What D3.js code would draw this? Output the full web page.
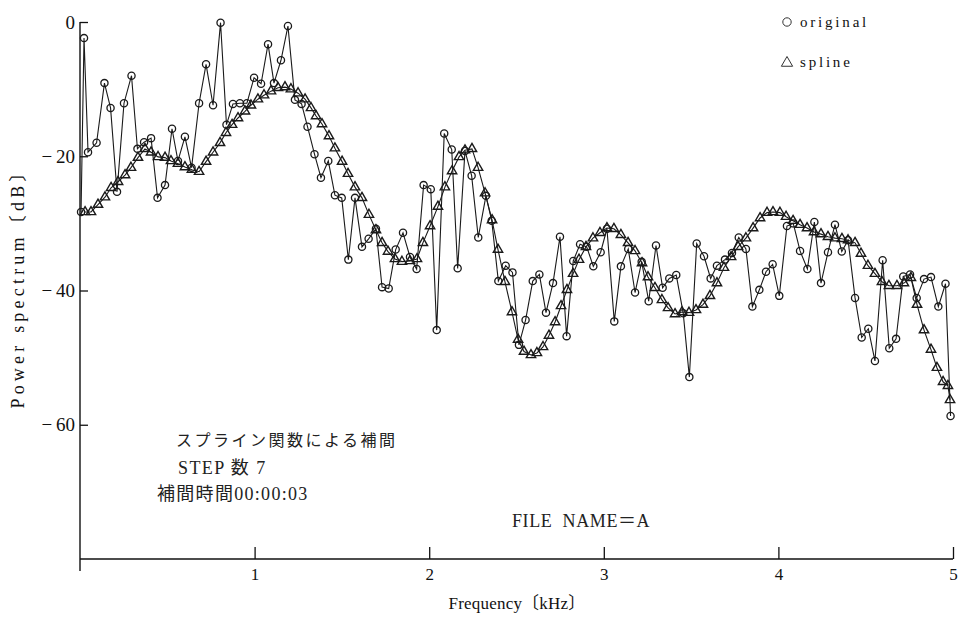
<!DOCTYPE html>
<html>
<head>
<meta charset="utf-8">
<script src="https://cdn.jsdelivr.net/npm/d3@7"></script>
<style>
    body { margin: 0; background: #fff; }
    svg { display: block; }
    .axis text { font-family: "Liberation Serif", serif; fill: #111; }
    .axis line, .axis path { stroke: #111; }
    .label { font-family: "Liberation Serif", "Noto Sans CJK JP", serif; fill: #111; }
    .latin { font-family: "Liberation Serif", serif; }
    .cjk { font-family: "Noto Sans CJK JP", sans-serif; }
</style>
</head>
<body>
<div id="chart"></div>
<script>
// Original spectrum (circles) - frequency in kHz, power in dB
const origFreq = [
    0.006, 0.023, 0.046, 0.095, 0.140, 0.175, 0.212, 0.252, 0.295, 0.329,
    0.367, 0.407, 0.444, 0.487, 0.527, 0.561, 0.601, 0.639, 0.682, 0.722,
    0.762, 0.805, 0.839, 0.876, 0.916, 0.956, 0.997, 1.037, 1.077, 1.111,
    1.151, 1.191, 1.231, 1.269, 1.303, 1.343, 1.380, 1.422, 1.460, 1.499,
    1.537, 1.575, 1.615, 1.653, 1.695, 1.730, 1.768, 1.808, 1.850, 1.890,
    1.928, 1.968, 2.009, 2.043, 2.086, 2.129, 2.163, 2.205, 2.243, 2.281,
    2.325, 2.358, 2.396, 2.438, 2.477, 2.514, 2.552, 2.593, 2.631, 2.669,
    2.709, 2.749, 2.787, 2.825, 2.864, 2.902, 2.940, 2.982, 3.018, 3.060,
    3.098, 3.140, 3.179, 3.217, 3.257, 3.299, 3.337, 3.375, 3.415, 3.455,
    3.490, 3.532, 3.574, 3.612, 3.648, 3.694, 3.734, 3.773, 3.814, 3.851,
    3.891, 3.929, 3.967, 4.005, 4.049, 4.085, 4.124, 4.166, 4.206, 4.244,
    4.284, 4.324, 4.363, 4.399, 4.439, 4.477, 4.515, 4.553, 4.597, 4.635,
    4.674, 4.715, 4.754, 4.792, 4.834, 4.874, 4.916, 4.957, 4.986
];
const origDb = [
    -28.3, -2.4, -19.4, -18.0, -9.1, -12.8, -25.3, -12.1, -8.0, -18.9,
    -17.9, -17.3, -26.2, -24.3, -15.9, -20.7, -17.1, -21.7, -12.1, -6.3,
    -12.4, -0.1, -15.3, -12.2, -12.1, -12.1, -8.3, -9.2, -3.3, -9.1,
    -5.7, -0.6, -11.6, -12.2, -15.6, -19.7, -23.2, -20.7, -25.8, -26.2,
    -35.4, -26.2, -33.5, -32.3, -30.8, -39.5, -39.7, -33.9, -31.4, -35.0,
    -36.8, -24.3, -24.9, -45.9, -16.6, -19.0, -36.7, -19.2, -22.9, -32.1,
    -25.9, -29.6, -38.6, -36.3, -37.3, -48.1, -44.4, -38.6, -37.6, -43.3,
    -38.9, -32.0, -46.8, -35.6, -33.1, -33.5, -36.4, -34.3, -30.8, -44.6,
    -36.4, -33.8, -40.3, -35.7, -41.6, -33.3, -39.6, -38.2, -37.7, -43.4,
    -52.9, -33.0, -34.9, -38.2, -36.3, -35.4, -34.4, -32.1, -33.8, -42.4,
    -39.9, -37.2, -36.1, -40.8, -30.4, -30.0, -34.1, -36.8, -29.8, -38.9,
    -34.3, -30.2, -34.2, -32.5, -41.1, -47.0, -45.7, -50.5, -35.5, -48.6,
    -47.2, -37.9, -37.6, -41.1, -38.3, -38.0, -42.4, -39.0, -58.7
];

// Spline interpolated spectrum (triangles)
const splineFreq = [
    0.029, 0.063, 0.103, 0.143, 0.178, 0.218, 0.258, 0.292, 0.332, 0.372,
    0.407, 0.447, 0.487, 0.521, 0.561, 0.601, 0.641, 0.682, 0.722, 0.762,
    0.802, 0.836, 0.871, 0.905, 0.945, 0.979, 1.019, 1.054, 1.094, 1.134,
    1.174, 1.208, 1.249, 1.289, 1.323, 1.352, 1.386, 1.426, 1.460, 1.501,
    1.535, 1.575, 1.615, 1.655, 1.695, 1.730, 1.764, 1.804, 1.844, 1.890,
    1.930, 1.964, 2.005, 2.050, 2.090, 2.131, 2.171, 2.205, 2.245, 2.280,
    2.320, 2.360, 2.394, 2.434, 2.474, 2.509, 2.543, 2.583, 2.617, 2.652,
    2.686, 2.721, 2.755, 2.789, 2.824, 2.858, 2.898, 2.938, 2.978, 3.018,
    3.058, 3.098, 3.139, 3.179, 3.219, 3.253, 3.293, 3.333, 3.368, 3.408,
    3.448, 3.488, 3.528, 3.568, 3.608, 3.648, 3.688, 3.729, 3.769, 3.814,
    3.855, 3.895, 3.935, 3.969, 4.009, 4.044, 4.084, 4.124, 4.164, 4.204,
    4.244, 4.284, 4.324, 4.364, 4.399, 4.439, 4.473, 4.513, 4.553, 4.593,
    4.633, 4.679, 4.719, 4.759, 4.794, 4.834, 4.874, 4.908, 4.943, 4.971,
    4.983
];
const splineDb = [
    -28.3, -28.3, -27.2, -26.1, -24.7, -23.8, -22.8, -21.7, -20.2, -18.9,
    -19.4, -20.1, -20.2, -20.7, -21.1, -21.6, -22.0, -22.3, -20.8, -19.4,
    -18.0, -16.5, -15.3, -14.3, -13.3, -12.4, -11.5, -10.9, -10.3, -9.8,
    -9.7, -10.0, -10.6, -11.5, -12.8, -14.0, -15.2, -17.0, -18.8, -20.8,
    -22.6, -24.6, -26.2, -28.7, -31.0, -32.9, -34.2, -35.3, -35.7, -35.6,
    -35.3, -32.9, -30.4, -27.5, -24.6, -22.2, -20.1, -19.1, -18.9, -21.7,
    -25.5, -29.5, -33.9, -38.7, -43.2, -47.3, -49.1, -49.6, -49.3, -48.4,
    -46.7, -44.7, -42.3, -39.9, -37.5, -35.4, -33.5, -32.2, -31.4, -30.7,
    -30.8, -31.7, -32.9, -34.1, -35.9, -38.0, -39.6, -41.4, -42.6, -43.5,
    -43.2, -43.3, -42.9, -42.1, -40.8, -38.9, -36.6, -35.0, -33.5, -32.2,
    -30.7, -29.2, -28.4, -28.3, -28.4, -29.0, -29.6, -30.2, -30.7, -31.3,
    -31.6, -32.0, -32.2, -32.3, -32.5, -32.9, -34.5, -36.3, -37.5, -38.7,
    -39.3, -39.3, -38.9, -38.1, -42.1, -45.9, -48.8, -51.5, -53.6, -54.2,
    -56.3
];

// Axis ticks and texts
const xTicks = [1, 2, 3, 4, 5];
const yTicks = [0, -20, -40, -60];
const legendLabels = ['original', 'spline'];
const noteLines = ['スプライン関数による補間', 'STEP 数 7', '補間時間00:00:03'];
const fileLabel = 'FILE  NAME＝A';

// SVG dimensions
const width = 959, height = 618;

const svg = d3.select('#chart')
    .append('svg')
    .attr('width', width)
    .attr('height', height)
    .style('background', '#fff');

// Scales
const x = d3.scaleLinear().domain([0, 5]).range([80, 953]);
const y = d3.scaleLinear().domain([-80, 0]).range([559, 22]);

const origData = d3.zip(origFreq, origDb);
const splineData = d3.zip(splineFreq, splineDb);

// Split a string into latin / japanese runs so each gets its own font
function addMixedText(textSel, str) {
    const parts = str.split(/([\u3000-\u9fff\uff00-\uffef]+)/).filter(s => s.length);
    parts.forEach(p => {
        textSel.append('tspan')
            .attr('class', /[\u3000-\u9fff\uff00-\uffef]/.test(p) ? 'cjk' : 'latin')
            .text(p);
    });
}

// Axes - ticks point inward
const xAxis = svg.append('g')
    .attr('class', 'axis')
    .attr('transform', `translate(0,${y(-80)})`)
    .call(d3.axisBottom(x).tickValues(xTicks).tickSize(-12).tickSizeOuter(0).tickPadding(9)
        .tickFormat(d3.format('d')));
xAxis.select('.domain').remove();
xAxis.selectAll('text').style('font-size', '17px');
xAxis.selectAll('line').attr('stroke-width', 1.3);

const yAxis = svg.append('g')
    .attr('class', 'axis')
    .attr('transform', `translate(${x(0)},0)`)
    .call(d3.axisLeft(y).tickValues(yTicks).tickSize(-8).tickSizeOuter(0).tickPadding(5)
        .tickFormat(d => d === 0 ? '0' : '\u2212\u2009' + Math.abs(d)));
yAxis.select('.domain').remove();
yAxis.selectAll('text').style('font-size', '19px');
yAxis.selectAll('line').attr('stroke-width', 1.3);

// Axis lines (y axis runs a little past the x axis)
svg.append('line')
    .attr('x1', x(0)).attr('x2', x(0))
    .attr('y1', y(0)).attr('y2', y(-80) + 12)
    .attr('stroke', '#111').attr('stroke-width', 1.4);
svg.append('line')
    .attr('x1', x(0)).attr('x2', x(5))
    .attr('y1', y(-80)).attr('y2', y(-80))
    .attr('stroke', '#111').attr('stroke-width', 1.6);

// Axis titles
svg.append('text')
    .attr('class', 'label')
    .attr('x', 517).attr('y', 609)
    .attr('text-anchor', 'middle')
    .style('font-size', '17px')
    .style('letter-spacing', '0.2px')
    .text('Frequency〔kHz〕');

svg.append('text')
    .attr('class', 'label')
    .attr('transform', 'translate(24,284) rotate(-90)')
    .attr('text-anchor', 'middle')
    .style('font-size', '18px')
    .style('letter-spacing', '4.2px')
    .text('Power spectrum〔dB〕');

// Lines
const line = d3.line()
    .x(d => x(d[0]))
    .y(d => y(d[1]));

svg.append('path')
    .datum(origData)
    .attr('d', line)
    .attr('fill', 'none')
    .attr('stroke', '#1a1a1a')
    .attr('stroke-width', 1.1);

svg.append('path')
    .datum(splineData)
    .attr('d', line)
    .attr('fill', 'none')
    .attr('stroke', '#1a1a1a')
    .attr('stroke-width', 1.1);

// Markers
svg.selectAll('.orig-marker')
    .data(origData)
    .enter()
    .append('circle')
    .attr('class', 'orig-marker')
    .attr('cx', d => x(d[0]))
    .attr('cy', d => y(d[1]))
    .attr('r', 3.6)
    .attr('fill', 'none')
    .attr('stroke', '#1a1a1a')
    .attr('stroke-width', 1.3);

const triangle = d3.symbol().type(d3.symbolTriangle).size(38);

svg.selectAll('.spline-marker')
    .data(splineData)
    .enter()
    .append('path')
    .attr('class', 'spline-marker')
    .attr('d', triangle)
    .attr('transform', d => `translate(${x(d[0])},${y(d[1])})`)
    .attr('fill', 'none')
    .attr('stroke', '#1a1a1a')
    .attr('stroke-width', 1.4);

// Legend
const legend = svg.append('g').attr('transform', 'translate(787,22)');
legend.append('circle')
    .attr('cx', 0).attr('cy', 0).attr('r', 4.2)
    .attr('fill', 'none').attr('stroke', '#333').attr('stroke-width', 1);
legend.append('path')
    .attr('d', d3.symbol().type(d3.symbolTriangle).size(55))
    .attr('transform', 'translate(0,41)')
    .attr('fill', 'none').attr('stroke', '#333').attr('stroke-width', 1);
legend.selectAll('.legend-text')
    .data(legendLabels)
    .enter()
    .append('text')
    .attr('class', 'label legend-text')
    .attr('x', 13)
    .attr('y', (d, i) => 5 + i * 40)
    .style('font-size', '15px')
    .style('letter-spacing', '2.8px')
    .text(d => d);

// Notes in the lower left
const noteX = [176, 178, 157];
const noteY = [446, 474, 500];
const noteSpacing = ['2.5px', '1.4px', '1.3px'];
noteLines.forEach((str, i) => {
    const t = svg.append('text')
        .attr('class', 'label')
        .attr('x', noteX[i])
        .attr('y', noteY[i])
        .style('font-size', i === 0 ? '16px' : '18px')
        .style('letter-spacing', noteSpacing[i])
        .style('fill', '#222');
    addMixedText(t, str);
});

const fileText = svg.append('text')
    .attr('class', 'label')
    .attr('x', 512).attr('y', 527)
    .style('font-size', '18px')
    .style('letter-spacing', '0.6px')
    .style('white-space', 'pre')
    .style('fill', '#222');
addMixedText(fileText, fileLabel);
</script>
</body>
</html>
